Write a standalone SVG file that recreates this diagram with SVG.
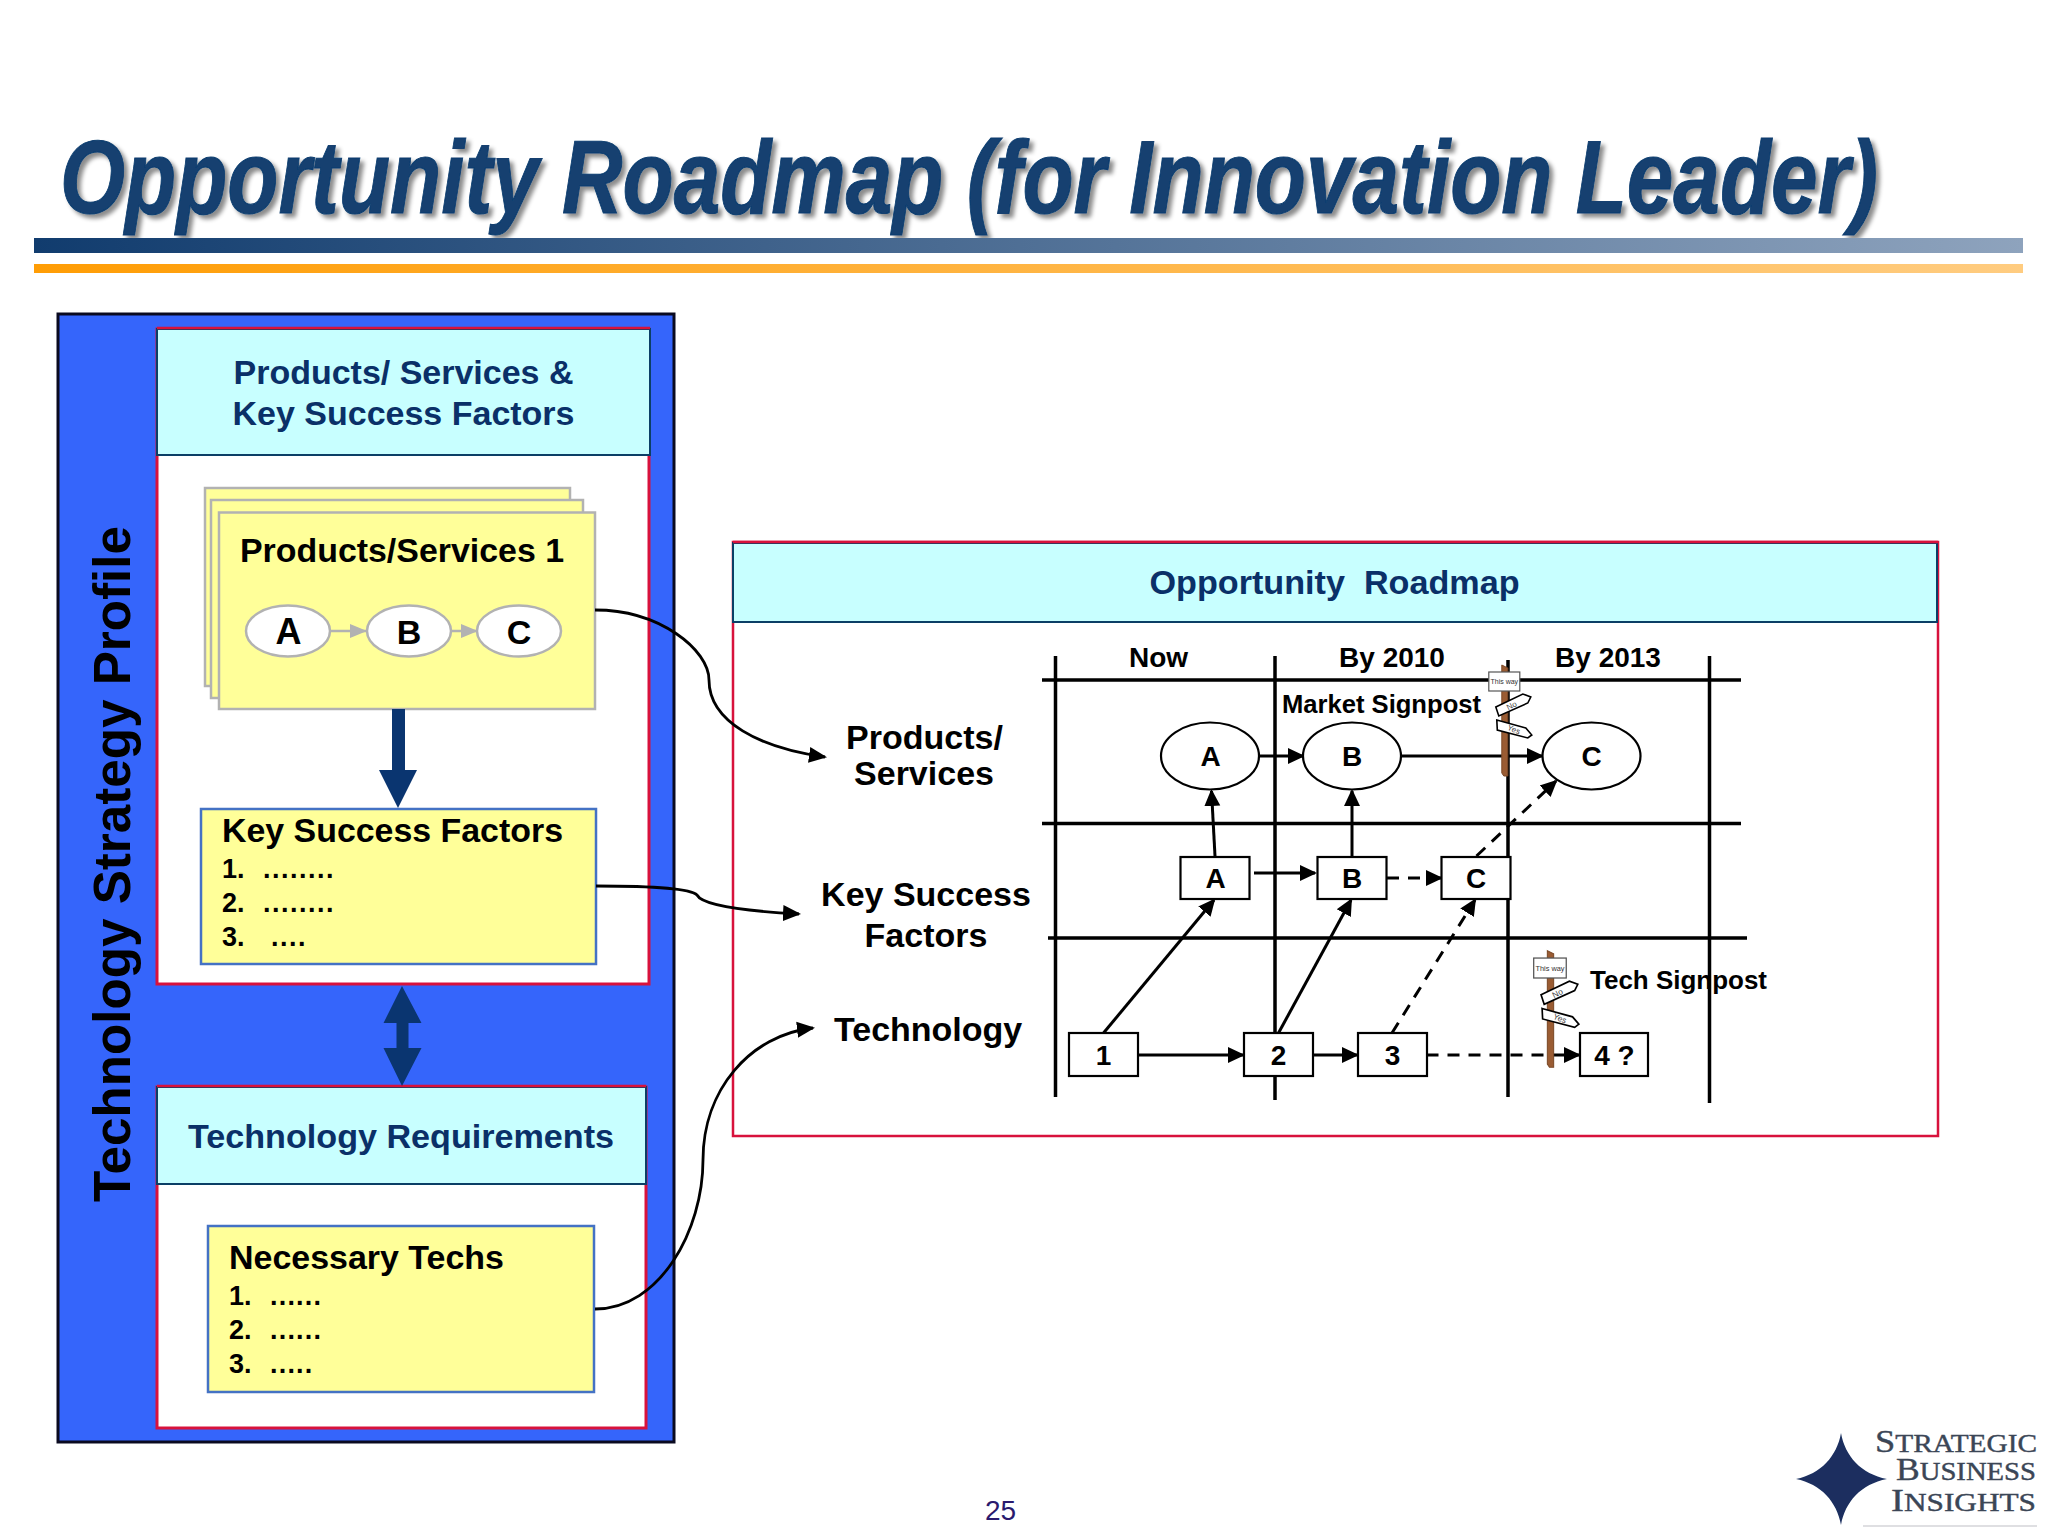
<svg xmlns="http://www.w3.org/2000/svg" width="2048" height="1536" viewBox="0 0 2048 1536">
<defs>
<style>
text{font-family:"Liberation Sans",Arial,sans-serif;font-weight:bold;fill:#000}
.hd{fill:#0a3068;font-size:34px;text-anchor:middle}
.lab{font-size:34px}
.ctr{text-anchor:middle}
.li{font-size:27px}
.cyan{fill:#c8ffff;stroke:#0b3f66;stroke-width:2}
.pan{fill:#fff;stroke:#d8123c;stroke-width:3}
.red{stroke:#d8123c;stroke-width:2.500;fill:none}
.yb{fill:#ffff99;stroke:#4472c4;stroke-width:2.5}
.ys{fill:#ffff99;stroke:#b2b2b2;stroke-width:2.5}
.el{fill:#fff;stroke:#b2b2b2;stroke-width:2.5}
.gl{stroke:#000;stroke-width:3.5;fill:none}
.bx{fill:#fff;stroke:#000;stroke-width:2.2}
.ar{stroke:#000;stroke-width:3;fill:none;marker-end:url(#ah)}
.da{stroke-dasharray:12 9}
.cv{stroke:#000;stroke-width:2.8;fill:none;marker-end:url(#ac)}
.sg{fill:#fff;stroke:#000;stroke-width:1.6}
.st{font-size:7px;font-weight:normal;fill:#333}
.sn{font-size:8px;font-weight:normal;fill:#444}
.lg{font-family:"Liberation Serif",serif;font-weight:normal;fill:#3b4656;stroke:#3b4656;stroke-width:0.400}
</style>
<marker id="ah" markerUnits="userSpaceOnUse" markerWidth="18" markerHeight="18" refX="15" refY="8" orient="auto" viewBox="0 0 18 16"><path d="M0 0L17 8L0 16Z" fill="#000"/></marker>
<marker id="ac" markerUnits="userSpaceOnUse" markerWidth="19" markerHeight="18" refX="16" refY="8" orient="auto" viewBox="0 0 19 16"><path d="M0 0L18 8L0 16Z" fill="#000"/></marker>
<marker id="ag" markerUnits="userSpaceOnUse" markerWidth="18" markerHeight="16" refX="16" refY="7" orient="auto" viewBox="0 0 18 14"><path d="M0 0L17 7L0 14Z" fill="#b2b2b2"/></marker>
<linearGradient id="gb"><stop offset="0" stop-color="#113c6e"/><stop offset="1" stop-color="#8ea3bd"/></linearGradient>
<linearGradient id="go"><stop offset="0" stop-color="#ff9d05"/><stop offset="1" stop-color="#ffcc80"/></linearGradient>
<filter id="sh" x="-2%" y="-20%" width="104%" height="140%"><feDropShadow dx="4" dy="4" stdDeviation="2" flood-color="#000" flood-opacity="0.45"/></filter>
<filter id="bl"><feGaussianBlur stdDeviation="0.6"/></filter>
</defs>
<rect width="2048" height="1536" fill="#fff"/>

<g id="title">
<text x="60" y="213" font-size="103" font-style="italic" textLength="1818" lengthAdjust="spacingAndGlyphs" style="fill:#123f70;stroke:#123f70;stroke-width:1" filter="url(#sh)">Opportunity Roadmap (for Innovation Leader)</text>
<rect x="34" y="238" width="1989" height="15" fill="url(#gb)"/>
<rect x="34" y="264" width="1989" height="9" fill="url(#go)"/>
</g>

<g id="strategy-profile">
<rect x="58" y="314" width="616" height="1128" fill="#3565fb" stroke="#0a0a20" stroke-width="3"/>
<text transform="translate(130,1202) rotate(-90)" font-size="52" textLength="676" lengthAdjust="spacingAndGlyphs">Technology Strategy Profile</text>
</g>

<g id="panel-products">
<rect class="pan" x="157" y="329" width="492" height="655"/>
<rect class="cyan" x="157" y="329" width="493" height="126"/>
<path class="red" d="M157 328H650"/>
<text class="hd" x="403.500" y="384" textLength="340" lengthAdjust="spacingAndGlyphs">Products/ Services &amp;</text>
<text class="hd" x="403.500" y="425" textLength="342" lengthAdjust="spacingAndGlyphs">Key Success Factors</text>
</g>

<g id="products-stack">
<rect class="ys" x="205" y="488" width="365" height="198"/>
<rect class="ys" x="211" y="500" width="372" height="198"/>
<rect class="ys" x="219" y="512.500" width="376" height="196.500"/>
<text class="lab" x="240" y="562" textLength="324" lengthAdjust="spacingAndGlyphs">Products/Services 1</text>
</g>
<g id="mini-a"><ellipse class="el" cx="288" cy="631" rx="42" ry="25.500"/><text class="lab ctr" x="288.500" y="644" style="font-size:36px">A</text></g>
<g id="mini-b"><ellipse class="el" cx="409" cy="631" rx="42" ry="25.500"/><text class="lab ctr" x="409" y="644">B</text></g>
<g id="mini-c"><ellipse class="el" cx="519" cy="631" rx="42" ry="25.500"/><text class="lab ctr" x="519" y="644">C</text></g>

<g id="ksf-box">
<rect class="yb" x="201" y="809" width="395" height="155"/>
<text class="lab" x="222" y="842" textLength="341" lengthAdjust="spacingAndGlyphs">Key Success Factors</text>
<text class="li" x="222" y="878">1.</text><text class="li" x="263" y="878" letter-spacing="1.500">........</text>
<text class="li" x="222" y="912">2.</text><text class="li" x="263" y="912" letter-spacing="1.500">........</text>
<text class="li" x="222" y="946">3.</text><text class="li" x="271" y="946" letter-spacing="1.500">....</text>
</g>

<g id="panel-tech">
<rect class="pan" x="157" y="1087" width="489" height="341"/>
<rect class="cyan" x="157" y="1087" width="489" height="97"/>
<path class="red" d="M157 1086H646"/>
<text class="hd" x="401" y="1148" textLength="426" lengthAdjust="spacingAndGlyphs">Technology Requirements</text>
</g>

<g id="necessary-box">
<rect class="yb" x="208" y="1226" width="386" height="166"/>
<text class="lab" x="229" y="1269" textLength="275" lengthAdjust="spacingAndGlyphs">Necessary Techs</text>
<text class="li" x="229" y="1305">1.</text><text class="li" x="270" y="1305" letter-spacing="1.200">......</text>
<text class="li" x="229" y="1339">2.</text><text class="li" x="270" y="1339" letter-spacing="1.200">......</text>
<text class="li" x="229" y="1373">3.</text><text class="li" x="270" y="1373" letter-spacing="1.200">.....</text>
</g>

<g id="roadmap-frame">
<rect x="733" y="542" width="1205" height="594" fill="#fff" stroke="#d8123c" stroke-width="2.500"/>
<rect class="cyan" x="733" y="543" width="1204" height="79"/>
<path class="red" d="M733 542H1938"/>
<text class="hd" x="1334.500" y="594" xml:space="preserve" textLength="370" lengthAdjust="spacingAndGlyphs">Opportunity  Roadmap</text>
</g>

<g id="row-labels">
<text class="lab ctr" x="924.500" y="749">Products/</text>
<text class="lab ctr" x="924" y="785">Services</text>
<text class="lab ctr" x="926" y="906">Key Success</text>
<text class="lab ctr" x="926" y="947">Factors</text>
<text class="lab" x="834" y="1041">Technology</text>
</g>

<g id="grid">
<path class="gl" d="M1042 680H1741M1042 823.500H1741M1048 938H1747M1055.500 656V1097M1275 656V1100M1508 660V1097M1709.500 656V1103"/>
<text class="ctr" x="1158.500" y="667" font-size="28">Now</text>
<text class="ctr" x="1392" y="667" font-size="28">By 2010</text>
<text class="ctr" x="1608" y="667" font-size="28">By 2013</text>
<text x="1282" y="713" font-size="26" textLength="199" lengthAdjust="spacingAndGlyphs">Market Signpost</text>
<text x="1590" y="989" font-size="26" textLength="177" lengthAdjust="spacingAndGlyphs">Tech Signpost</text>
</g>

<g id="connectors">
<path d="M330 631H366" stroke="#b2b2b2" stroke-width="2.500" fill="none" marker-end="url(#ag)"/>
<path d="M451 631H477" stroke="#b2b2b2" stroke-width="2.500" fill="none" marker-end="url(#ag)"/>
<path d="M392 709H405V770H417L398 808L379 770H392Z" fill="#0a3570"/>
<path d="M402 986L421.500 1023H408.500V1048H421.500L402 1086L383.500 1048H396.500V1023H383.500Z" fill="#0a3570"/>
<path class="cv" d="M595 610C660 610 709 650 709 680C709 722 760 748 825 757"/>
<path class="cv" d="M596 886C640 886 690 888 697 895C702 905 745 911 799 914"/>
<path class="cv" d="M595 1309C660 1309 703 1230 703 1160C703 1090 750 1035 813 1028"/>
<path class="ar" d="M1259.500 756H1303"/>
<path class="ar" d="M1401 756H1542"/>
<path class="ar" d="M1215 856L1211.500 791"/>
<path class="ar" d="M1352 856V791"/>
<path class="ar" d="M1254 873H1315"/>
<path class="ar da" d="M1387 878H1441"/>
<path class="ar da" d="M1476.500 856L1556 781"/>
<path class="ar" d="M1138 1055H1243"/>
<path class="ar" d="M1312.500 1055H1357"/>
<path class="ar da" d="M1426.500 1055H1579"/>
<path class="ar" d="M1103.500 1033L1214 900"/>
<path class="ar" d="M1278.500 1033L1351 900"/>
<path class="ar da" d="M1392 1033L1475 900"/>
</g>

<g id="market-signpost" transform="translate(1504.800,665)">
<path d="M-3 0L3 3V111L-1 111L-3 108Z" fill="#9a5c33" stroke="#7c4a28"/>
<rect x="-16" y="7" width="31" height="19" fill="#fff" stroke="#555" stroke-width="1.200"/>
<text class="st ctr" x="-0.500" y="19">This way</text>
<polygon class="sg" points="-9,42 18,29 26,32 23,38 -6,51"/>
<text class="sn ctr" transform="translate(8,43) rotate(-27)" x="0" y="0">No</text>
<polygon class="sg" points="-8,55 21,63 27,70 23,73 -7.500,65"/>
<text class="sn ctr" transform="translate(8,67) rotate(22)" x="0" y="0">Yes</text>
</g>

<g id="tech-signpost" transform="translate(1550.500,950.700) scale(1.050)">
<path d="M-3 0L3 3V111L-1 111L-3 108Z" fill="#9a5c33" stroke="#7c4a28"/>
<rect x="-16" y="7" width="31" height="19" fill="#fff" stroke="#555" stroke-width="1.200"/>
<text class="st ctr" x="-0.500" y="19">This way</text>
<polygon class="sg" points="-9,42 18,29 26,32 23,38 -6,51"/>
<text class="sn ctr" transform="translate(8,43) rotate(-27)" x="0" y="0">No</text>
<polygon class="sg" points="-8,55 21,63 27,70 23,73 -7.500,65"/>
<text class="sn ctr" transform="translate(8,67) rotate(22)" x="0" y="0">Yes</text>
</g>

<g id="circle-a"><ellipse class="bx" cx="1210" cy="756" rx="49" ry="33.500"/><text class="ctr" x="1210.500" y="766" font-size="28">A</text></g>
<g id="circle-b"><ellipse class="bx" cx="1352" cy="756" rx="49" ry="33.500"/><text class="ctr" x="1352" y="766" font-size="28">B</text></g>
<g id="circle-c"><ellipse class="bx" cx="1591.500" cy="756" rx="49" ry="33.500"/><text class="ctr" x="1591.500" y="766" font-size="28">C</text></g>
<g id="ksf-a"><rect class="bx" x="1180.500" y="857" width="69" height="42"/><text class="ctr" x="1215.500" y="888" font-size="28">A</text></g>
<g id="ksf-b"><rect class="bx" x="1317.500" y="857" width="69" height="42"/><text class="ctr" x="1352" y="888" font-size="28">B</text></g>
<g id="ksf-c"><rect class="bx" x="1441.500" y="857" width="69" height="42"/><text class="ctr" x="1476" y="888" font-size="28">C</text></g>
<g id="tech-1"><rect class="bx" x="1069" y="1033" width="69" height="43"/><text class="ctr" x="1103.500" y="1065" font-size="28">1</text></g>
<g id="tech-2"><rect class="bx" x="1244" y="1033" width="69" height="43"/><text class="ctr" x="1278.500" y="1065" font-size="28">2</text></g>
<g id="tech-3"><rect class="bx" x="1358" y="1033" width="69" height="43"/><text class="ctr" x="1392.500" y="1065" font-size="28">3</text></g>
<g id="tech-4"><rect class="bx" x="1580" y="1033" width="68" height="43"/><text class="ctr" x="1614.500" y="1065" font-size="28">4 ?</text></g>

<g id="page-number"><text x="985" y="1520" font-size="28" style="font-weight:normal;fill:#2a1a6e">25</text></g>

<g id="logo">
<path d="M1841 1433C1845 1456 1861 1474 1887 1479C1861 1484 1845 1502 1841 1525C1837 1502 1821 1484 1796 1479C1821 1474 1837 1456 1841 1433Z" fill="#1a2f5f" filter="url(#bl)"/>
<text class="lg" x="1875" y="1452" font-size="31" textLength="162" lengthAdjust="spacingAndGlyphs">S<tspan font-size="25">TRATEGIC</tspan></text>
<text class="lg" x="1896" y="1480" font-size="31" textLength="140" lengthAdjust="spacingAndGlyphs">B<tspan font-size="25">USINESS</tspan></text>
<text class="lg" x="1891" y="1511" font-size="31" textLength="145" lengthAdjust="spacingAndGlyphs">I<tspan font-size="25">NSIGHTS</tspan></text>
<path d="M1863 1526H2037" stroke="#d5d5d8" stroke-width="1.500"/>
</g>
</svg>
